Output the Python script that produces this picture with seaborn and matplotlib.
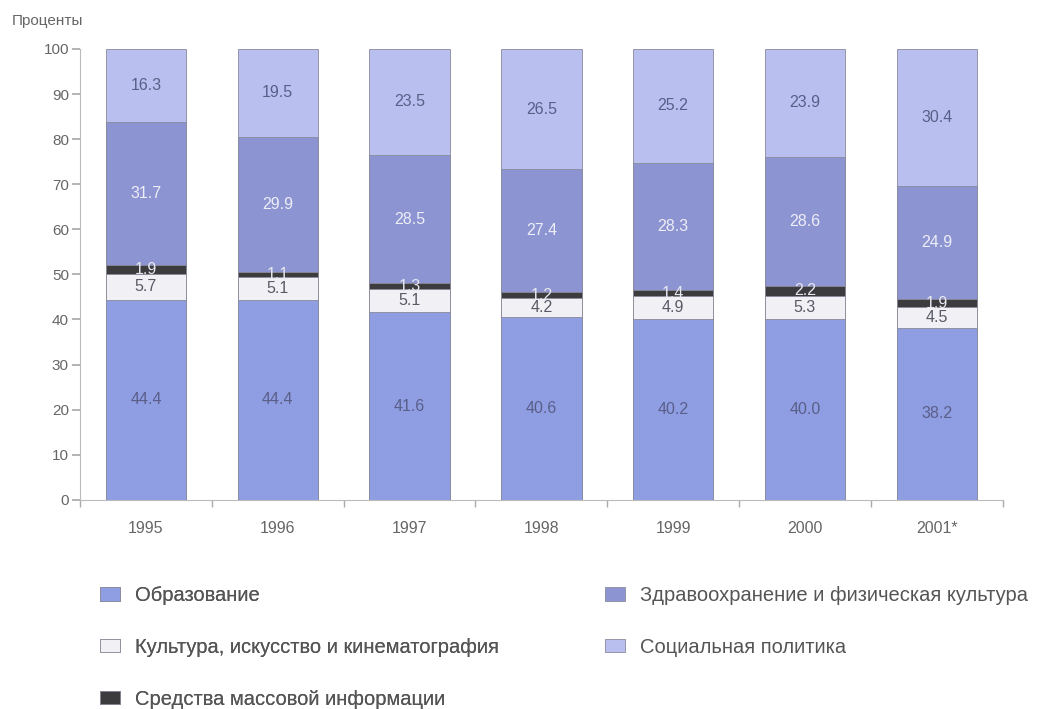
import numpy as np
import pandas as pd
import matplotlib
matplotlib.use("Agg")
import matplotlib.pyplot as plt
import seaborn as sns
from matplotlib.patches import Patch

years = ["1995", "1996", "1997", "1998", "1999", "2000", "2001*"]
education = [44.4, 44.4, 41.6, 40.6, 40.2, 40.0, 38.2]
culture = [5.7, 5.1, 5.1, 4.2, 4.9, 5.3, 4.5]
media = [1.9, 1.1, 1.3, 1.2, 1.4, 2.2, 1.9]
health = [31.7, 29.9, 28.5, 27.4, 28.3, 28.6, 24.9]
social = [16.3, 19.5, 23.5, 26.5, 25.2, 23.9, 30.4]

names = ["Образование", "Культура, искусство и кинематография",
         "Средства массовой информации",
         "Здравоохранение и физическая культура", "Социальная политика"]
series = [education, culture, media, health, social]
colors = ["#8f9de3", "#f1f1f5", "#3c3c3e", "#8c94d2", "#b9c0f0"]
text_colors = ["#5a5f88", "#5a5a66", "#e8e8f0", "#eeeef6", "#5a5f88"]

sns.set_theme(style="white")
plt.rcParams["font.family"] = ["Liberation Sans", "DejaVu Sans"]

fig = plt.figure(figsize=(10.39, 7.09), dpi=100)
ax = fig.add_axes([0.077, 0.295, 0.888, 0.636])

# stacked bars: draw cumulative totals from the top layer down
cum = np.cumsum(np.array(series), axis=0)
for i in range(len(series) - 1, -1, -1):
    df = pd.DataFrame({"year": years, "value": cum[i]})
    sns.barplot(data=df, x="year", y="value", color=colors[i], width=0.61,
                edgecolor="#8a8a9a", linewidth=0.6, saturation=1, ax=ax)

# value labels
for i, vals in enumerate(series):
    base = cum[i] - np.array(vals)
    for j, v in enumerate(vals):
        y = base[j] + v / 2
        ax.text(j, y, f"{v:.1f}", ha="center", va="center",
                fontsize=11.5, color=text_colors[i])

ax.set_ylim(0, 100)
ax.set_xlim(-0.5, 6.5)
ax.set_yticks(range(0, 101, 10))
ax.set_xticks(np.arange(-0.5, 7, 1), minor=True)
ax.tick_params(axis="x", which="major", length=0, pad=15, labelsize=11.5, labelcolor="#666666")
ax.tick_params(axis="x", which="minor", length=5, color="#aaaaaa", direction="out", bottom=True)
ax.tick_params(axis="y", length=6, color="#aaaaaa", direction="out", left=True, pad=2,
               labelsize=11, labelcolor="#666666")
ax.set_xlabel("")
ax.set_ylabel("")
for s in ["top", "right"]:
    ax.spines[s].set_visible(False)
for s in ["left", "bottom"]:
    ax.spines[s].set_color("#bbbbbb")
    ax.spines[s].set_linewidth(0.8)

fig.text(0.011, 0.971, "Проценты", fontsize=11, color="#666666", ha="left", va="center")

handles = [Patch(facecolor=colors[i], edgecolor="#8a8a9a", linewidth=0.6) for i in range(5)]
leg_kw = dict(loc="upper left", frameon=False, fontsize=14.5, labelcolor="#555555",
              handlelength=1.0, handleheight=0.65, handletextpad=0.75,
              labelspacing=1.63, borderpad=0, borderaxespad=0)
top = 1 - 586 / 709
leg1 = fig.legend(handles[:3], names[:3], bbox_to_anchor=(100 / 1039, top), **leg_kw)
fig.legend(handles[3:], names[3:], bbox_to_anchor=(605 / 1039, top), **leg_kw)
fig.add_artist(leg1)

fig.savefig("out.png", dpi=100, facecolor="white")
